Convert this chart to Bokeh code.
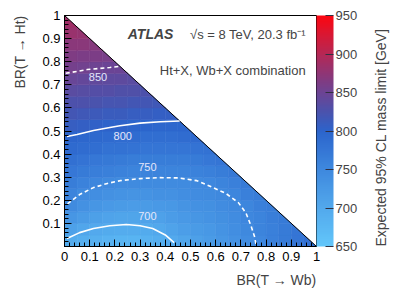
import numpy as np
from bokeh.plotting import figure
from bokeh.models import (LinearColorMapper, ColorBar, FixedTicker, Label, Title, LinearAxis,
                          ColumnDataSource, Range1d)
from bokeh.transform import transform
from bokeh.embed import file_html
from bokeh.resources import INLINE

# ---------------- data ----------------
# Expected 95% CL mass limit [GeV]; rows = BR(T->Ht) bins (0.05 wide, from bottom),
# entries along BR(T->Wb) bins (0.05 wide, from left), only BR(Wb)+BR(Ht) <= 1
bin_width = 0.05
r00 = [697, 692, 688, 684, 682, 682, 686, 692, 699, 706, 714, 721, 729, 737, 744, 752, 760, 768, 776, 783]
r01 = [712, 704, 699, 696, 694, 694, 697, 702, 708, 715, 721, 727, 734, 741, 748, 755, 762, 769, 776]
r02 = [729, 720, 713, 709, 707, 706, 708, 712, 718, 723, 728, 733, 739, 744, 750, 757, 763, 769]
r03 = [745, 735, 728, 723, 720, 719, 720, 723, 727, 731, 735, 739, 743, 748, 753, 760, 766]
r04 = [756, 747, 740, 736, 733, 732, 733, 735, 737, 740, 743, 746, 749, 753, 760, 767]
r05 = [766, 759, 753, 749, 747, 746, 745, 745, 746, 747, 749, 752, 756, 762, 768]
r06 = [774, 768, 763, 760, 758, 756, 755, 755, 755, 756, 758, 762, 767, 771]
r07 = [783, 778, 774, 771, 769, 767, 766, 766, 766, 767, 769, 773, 777]
r08 = [792, 788, 785, 782, 780, 778, 777, 776, 776, 777, 779, 782]
r09 = [799, 796, 793, 791, 789, 788, 787, 787, 787, 788, 790]
r10 = [808, 806, 804, 802, 800, 799, 798, 797, 797, 797]
r11 = [818, 816, 814, 812, 810, 809, 808, 807, 807]
r12 = [827, 825, 823, 821, 820, 819, 818, 817]
r13 = [836, 834, 832, 830, 829, 828, 827]
r14 = [845, 843, 841, 839, 838, 837]
r15 = [855, 853, 851, 849, 848]
r16 = [864, 862, 860, 858]
r17 = [872, 870, 868]
r18 = [880, 878]
r19 = [887]
rows = [r00, r01, r02, r03, r04, r05, r06, r07, r08, r09,
        r10, r11, r12, r13, r14, r15, r16, r17, r18, r19]

# contour lines (BR(T->Wb), BR(T->Ht))
c700_x = [0.01, 0.06, 0.115, 0.18, 0.246, 0.30, 0.35, 0.40, 0.435]
c700_y = [0.035, 0.06, 0.078, 0.09, 0.095, 0.09, 0.078, 0.05, 0.017]
c750_x = [0.012, 0.06, 0.115, 0.17, 0.22, 0.30, 0.376, 0.45, 0.525, 0.59, 0.64, 0.69, 0.72, 0.74, 0.755, 0.76]
c750_y = [0.185, 0.225, 0.255, 0.273, 0.285, 0.294, 0.298, 0.297, 0.285, 0.255, 0.23, 0.19, 0.145, 0.09, 0.04, 0.005]
c800_x = [0.01, 0.05, 0.115, 0.18, 0.22, 0.30, 0.38, 0.457]
c800_y = [0.476, 0.485, 0.502, 0.515, 0.523, 0.534, 0.54, 0.543]
c850_x = [0.005, 0.05, 0.09, 0.14, 0.18, 0.22]
c850_y = [0.75, 0.758, 0.766, 0.771, 0.775, 0.78]

axis_ticks = [0.0, 0.1, 0.2, 0.3, 0.4, 0.5, 0.6, 0.7, 0.8, 0.9, 1.0]
axis_tick_labels = ["0", "0.1", "0.2", "0.3", "0.4", "0.5", "0.6", "0.7", "0.8", "0.9", "1"]
cbar_ticks = [650, 700, 750, 800, 850, 900, 950]

# ---------------- colours ----------------
stops_v = [650, 700, 750, 800, 825, 850, 875, 900, 925, 950]
stops_c = [(98, 198, 250), (82, 168, 236), (62, 136, 222), (44, 100, 204), (75, 82, 172),
           (108, 68, 148), (142, 54, 118), (180, 40, 86), (216, 24, 52), (250, 6, 18)]
lv = np.linspace(650, 950, 120)
palette = []
for v in lv:
    r = np.interp(v, stops_v, [c[0] for c in stops_c])
    g = np.interp(v, stops_v, [c[1] for c in stops_c])
    b = np.interp(v, stops_v, [c[2] for c in stops_c])
    palette.append("#%02x%02x%02x" % (int(round(r)), int(round(g)), int(round(b))))
mapper = LinearColorMapper(palette=palette, low=650, high=950)

# ---------------- cells ----------------
xs, ys, vals = [], [], []
nb = len(rows)
for j, row in enumerate(rows):
    for i, v in enumerate(row):
        x0, y0 = i * bin_width, j * bin_width
        if i + j < nb - 1:
            xs.append([x0, x0 + bin_width, x0 + bin_width, x0])
            ys.append([y0, y0, y0 + bin_width, y0 + bin_width])
        else:
            xs.append([x0, x0 + bin_width, x0])
            ys.append([y0, y0, y0 + bin_width])
        vals.append(v)
src = ColumnDataSource(dict(xs=xs, ys=ys, v=vals))

FONT = "Liberation Sans"

p = figure(width=399, height=293, x_range=Range1d(0, 1), y_range=Range1d(0, 1),
           output_backend="svg", toolbar_location=None,
           min_border_left=64, min_border_right=80, min_border_top=15, min_border_bottom=47)
p.background_fill_color = "white"
p.border_fill_color = "white"
p.outline_line_color = "black"
p.outline_line_width = 1
p.grid.visible = False

p.patches("xs", "ys", source=src, fill_color=transform("v", mapper),
          line_color=transform("v", mapper), line_width=0.6)

# diagonal boundary BR(Wb)+BR(Ht)=1
p.line(x=[0, 1], y=[1, 0], line_color="black", line_width=1)

lc = "white"
p.line(c700_x, c700_y, line_color=lc, line_width=1.6)
p.line(c750_x, c750_y, line_color=lc, line_width=1.6, line_dash="4 3")
p.line(c800_x, c800_y, line_color=lc, line_width=1.6)
p.line(c850_x, c850_y, line_color=lc, line_width=1.6, line_dash="4 3")

for txt, x, y in [("850", 0.133, 0.732), ("800", 0.231, 0.48), ("750", 0.329, 0.342), ("700", 0.329, 0.134)]:
    p.add_layout(Label(x=x, y=y, text=txt, text_font=FONT, text_font_size="11px",
                       text_color="#e6e6fa", text_align="center", text_baseline="middle"))

# axes
for ax in (p.xaxis[0], p.yaxis[0]):
    ax.major_label_text_font = FONT
    ax.major_label_text_font_size = "13px"
    ax.major_label_text_color = "black"
    ax.axis_line_color = "black"
    ax.major_tick_in = 7
    ax.major_tick_out = 0
    ax.minor_tick_in = 4
    ax.minor_tick_out = 0
    ax.major_tick_line_color = "black"
    ax.minor_tick_line_color = "black"
minor = [round(k * 0.02, 2) for k in range(51)]
p.xaxis.ticker = FixedTicker(ticks=axis_ticks, minor_ticks=minor)
p.yaxis.ticker = FixedTicker(ticks=axis_ticks[1:], minor_ticks=minor)
p.xaxis.major_label_overrides = {t: l for t, l in zip(axis_ticks, axis_tick_labels)}
p.yaxis.major_label_overrides = {t: l for t, l in zip(axis_ticks, axis_tick_labels)}
p.xaxis.major_label_standoff = 5
p.yaxis.major_label_standoff = 4

cb = ColorBar(color_mapper=mapper, ticker=FixedTicker(ticks=cbar_ticks), width=17,
              padding=0, margin=3, major_tick_in=8, major_tick_out=0,
              major_tick_line_color="#303040", minor_tick_line_color=None,
              major_label_text_font=FONT, major_label_text_font_size="13px",
              label_standoff=2, bar_line_color=None, border_line_color=None,
              background_fill_alpha=0)
p.add_layout(cb, "right")


def label_axis(text, align, standoff):
    """A bare axis (no line, no ticks) that only carries a label reading upward."""
    return LinearAxis(ticker=FixedTicker(ticks=[]), axis_line_color=None,
                      major_tick_line_color=None, minor_tick_line_color=None,
                      axis_label=text, axis_label_text_font=FONT,
                      axis_label_text_font_size="14px", axis_label_text_font_style="normal",
                      axis_label_standoff=standoff, axis_label_orientation=np.pi / 2,
                      axis_label_align=align)


# colour bar title (reads upward from the bottom of the frame)
p.add_layout(label_axis("Expected 95% CL mass limit [GeV]", "start", 20), "right")
# y-axis title (reads upward, ends at BR = 1)
p.add_layout(label_axis("BR(T \u2192 Ht)", "end", 20), "left")

# x-axis title, right-aligned
p.add_layout(Title(text="BR(T \u2192 Wb)", align="right", text_font=FONT, text_font_size="14px",
                   text_font_style="normal", standoff=12), "below")

# texts
p.add_layout(Label(x=0.251, y=0.918, text="ATLAS", text_font=FONT, text_font_size="14px",
                   text_font_style="bold italic", text_baseline="middle"))
p.add_layout(Label(x=0.498, y=0.918, text="\u221as = 8 TeV, 20.3 fb\u207b\u00b9", text_font=FONT,
                   text_font_size="13px", text_baseline="middle"))
p.add_layout(Label(x=0.378, y=0.763, text="Ht+X, Wb+X combination", text_font=FONT,
                   text_font_size="13px", text_baseline="middle"))

open("out.html", "w").write(file_html(p, INLINE))
